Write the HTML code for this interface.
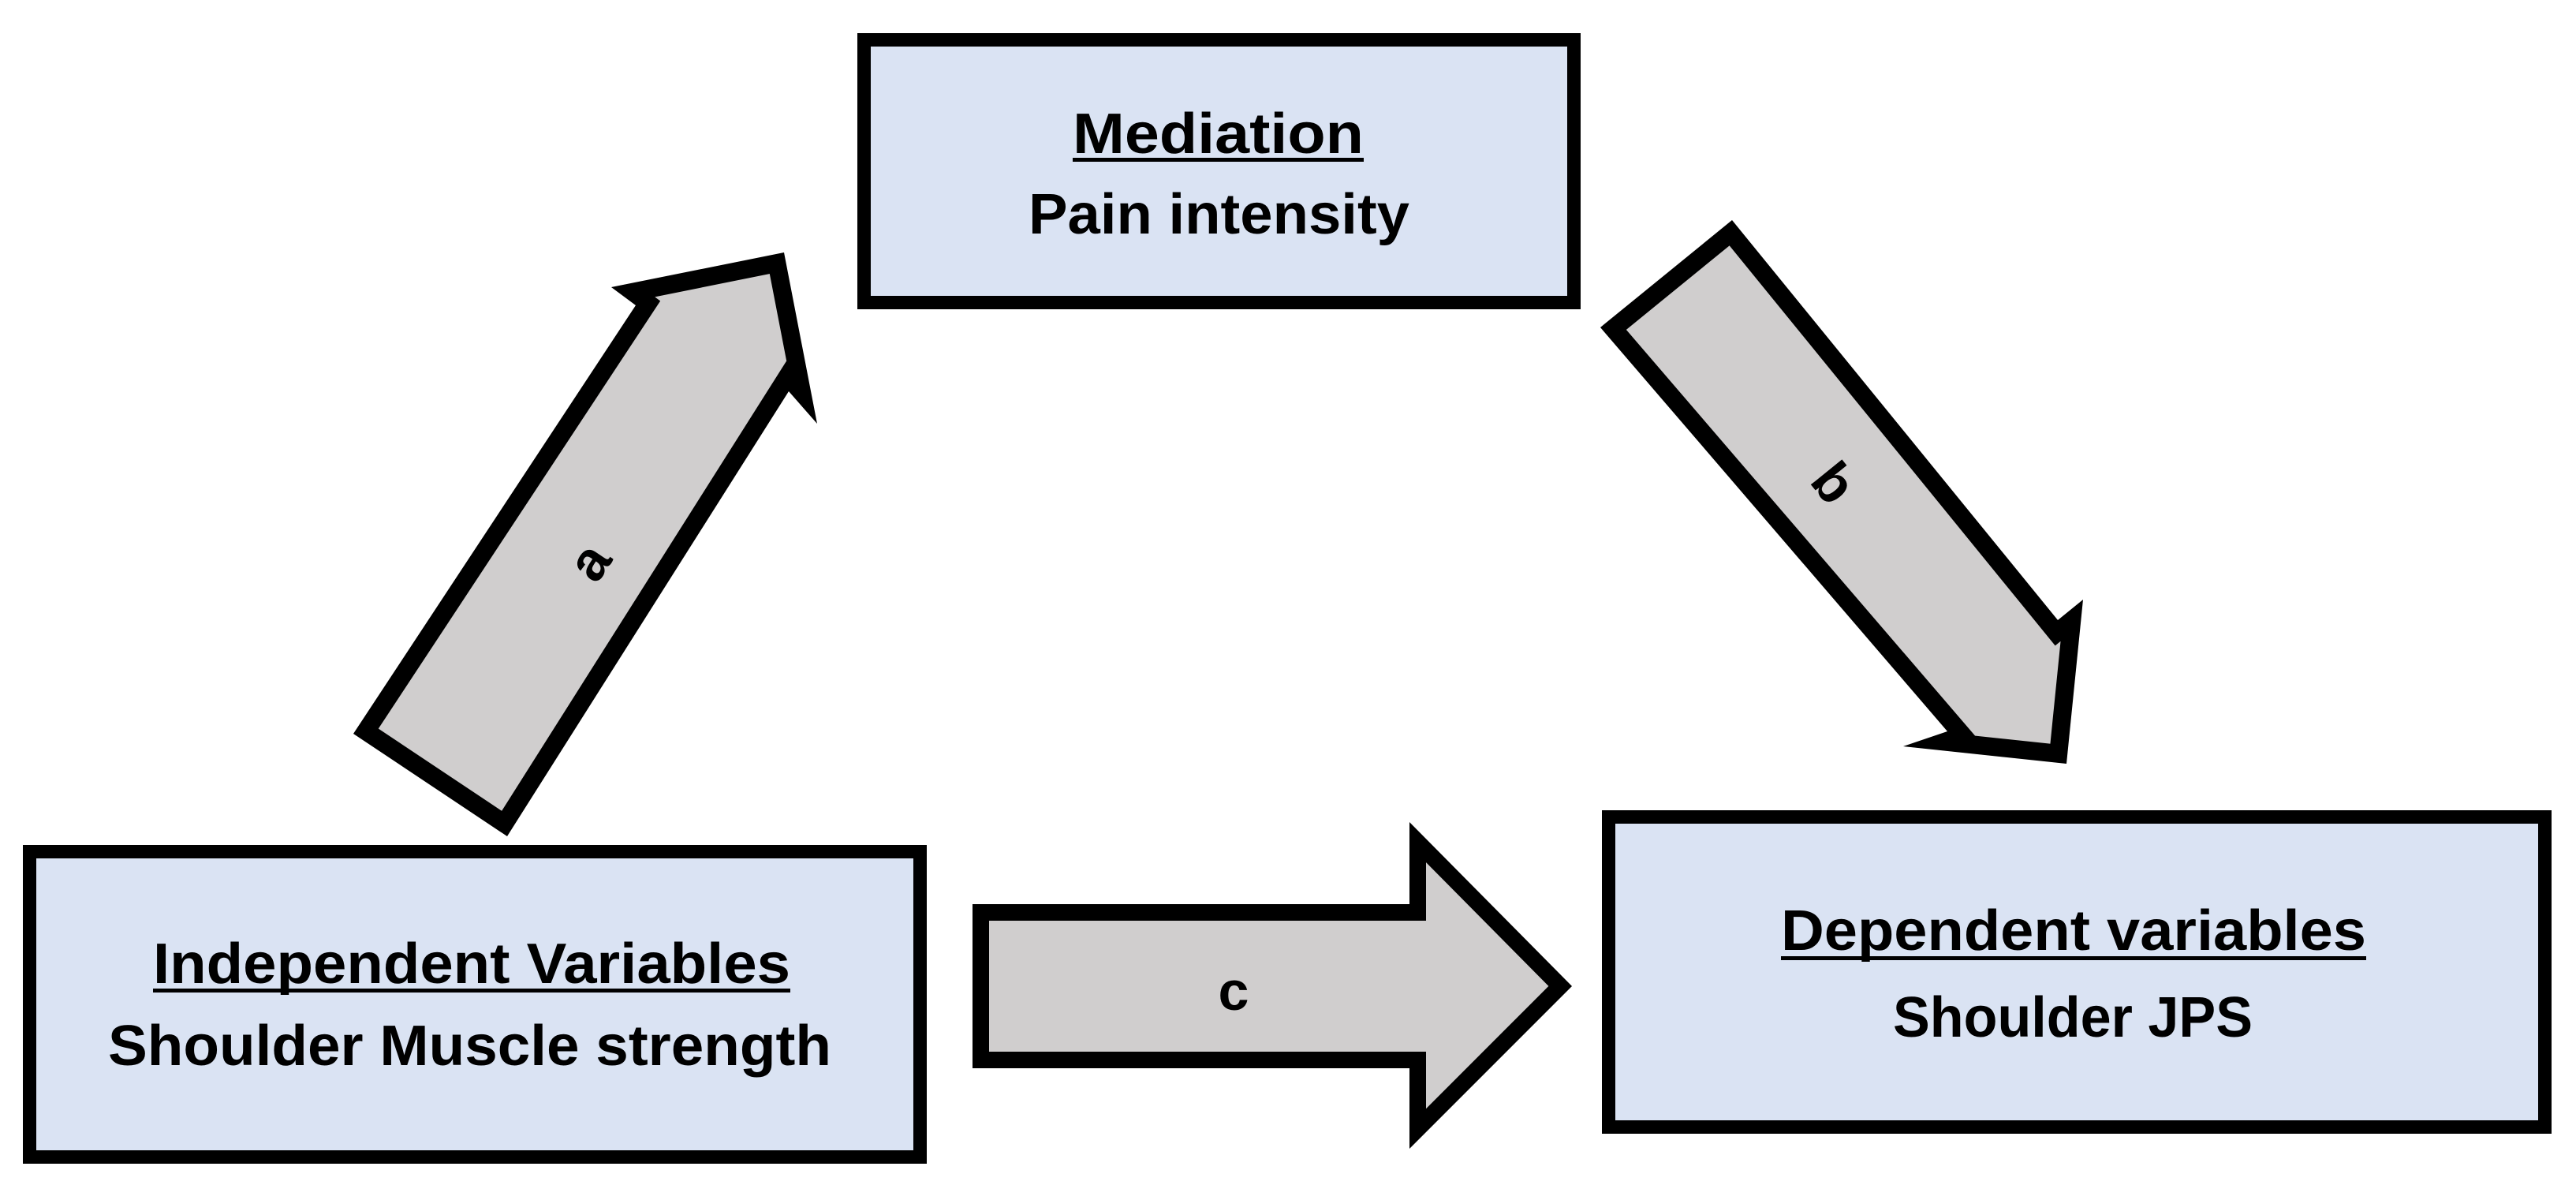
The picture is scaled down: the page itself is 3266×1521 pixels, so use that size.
<!DOCTYPE html>
<html><head><meta charset="utf-8"><style>
html,body{margin:0;padding:0;background:#fff;}
svg{display:block;}
text{font-family:"Liberation Sans",sans-serif;font-weight:bold;fill:#000;}
</style></head><body>
<svg width="3266" height="1521" viewBox="0 0 3266 1521" xmlns="http://www.w3.org/2000/svg">
<defs>
<clipPath id="ca"><polygon points="448,930 643,1060 1000,496 1036,537 994,320 775,364 806,387"/></clipPath>
<clipPath id="cb"><polygon points="2196,279 2029,415 2469,927 2413,946 2620,968 2641,760 2609,786"/></clipPath>
<clipPath id="cc"><polygon points="1233,1146 1787,1146 1787,1042 1993,1250 1787,1456 1787,1354 1233,1354"/></clipPath>
</defs>
<rect width="3266" height="1521" fill="#fff"/>
<rect x="1095.5" y="50.5" width="900" height="333" fill="#dae3f3" stroke="#000" stroke-width="17"/>
<rect x="37.5" y="1079.5" width="1129" height="387" fill="#dae3f3" stroke="#000" stroke-width="17"/>
<rect x="2039.5" y="1035.5" width="1187" height="393" fill="#dae3f3" stroke="#000" stroke-width="17"/>
<g clip-path="url(#ca)"><polygon points="448,930 643,1060 1000,496 1036,537 994,320 775,364 806,387" fill="#d0cece" stroke="#000" stroke-width="46" stroke-linejoin="miter"/></g>
<g clip-path="url(#cb)"><polygon points="2196,279 2029,415 2469,927 2413,946 2620,968 2641,760 2609,786" fill="#d0cece" stroke="#000" stroke-width="46"/></g>
<g clip-path="url(#cc)"><polygon points="1233,1146 1787,1146 1787,1042 1993,1250 1787,1456 1787,1354 1233,1354" fill="#d0cece" stroke="#000" stroke-width="42"/></g>
<text x="1360" y="194" font-size="72" textLength="369" lengthAdjust="spacingAndGlyphs">Mediation</text>
<rect x="1360" y="200" width="369" height="5" fill="#000"/>
<text x="1304" y="296" font-size="72" textLength="483" lengthAdjust="spacingAndGlyphs">Pain intensity</text>
<text x="194" y="1246" font-size="72" textLength="808" lengthAdjust="spacingAndGlyphs">Independent Variables</text>
<rect x="194" y="1253" width="808" height="5" fill="#000"/>
<text x="137" y="1350" font-size="72" textLength="917" lengthAdjust="spacingAndGlyphs">Shoulder Muscle strength</text>
<text x="2258" y="1204" font-size="72" textLength="742" lengthAdjust="spacingAndGlyphs">Dependent variables</text>
<rect x="2258" y="1212" width="742" height="5" fill="#000"/>
<text x="2400" y="1314" font-size="72" textLength="456" lengthAdjust="spacingAndGlyphs">Shoulder JPS</text>
<text x="1564" y="1280" font-size="70" text-anchor="middle">c</text>
<text x="0" y="0" font-size="70" text-anchor="middle" dominant-baseline="central" transform="translate(747,712) rotate(-56)">a</text>
<text x="0" y="0" font-size="70" text-anchor="middle" dominant-baseline="central" transform="translate(2325,612) rotate(51)">b</text>
</svg>
</body></html>
